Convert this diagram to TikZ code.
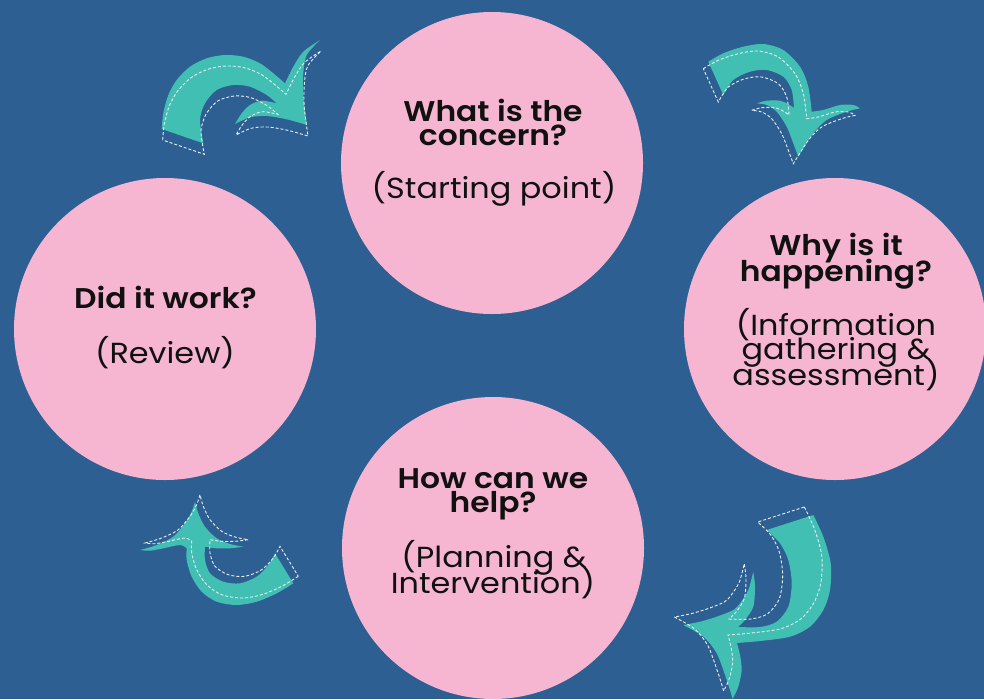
\documentclass[tikz,border=0pt]{standalone}
\usepackage{fontspec}
\setmainfont{Poppins}[FakeStretch=1.1,BoldFont={* SemiBold}]
\definecolor{bgblue}{HTML}{2D5F93}
\definecolor{pinkc}{HTML}{F6B6D2}
\definecolor{tealc}{HTML}{42BFB3}
\definecolor{inkc}{HTML}{111111}
\tikzset{
  circ/.style={circle,fill=pinkc,minimum size=302pt,inner sep=0pt},
  headtxt/.style={anchor=base,inner sep=0pt,text=inkc,font=\bfseries\fontsize{28.5}{28}\selectfont},
  subtxt/.style={anchor=base,inner sep=0pt,text=inkc,font=\fontsize{29}{28}\selectfont},
  arrowfill/.style={fill=tealc},
  arrowdash/.style={draw=white!90!bgblue,line width=0.9pt,dash pattern=on 3pt off 2pt}
}
\def\arrTL{(161.7,129) -- plot[smooth] coordinates {(161.7,129) (163.3,113.3) (168.3,95) (176.7,80) (190,66.7) (206.7,58.3) (225,55) (243.3,56.7) (260,63.3) (273.3,73.3) (285,83.3)}
 -- plot[smooth] coordinates {(285,83.3) (293.3,66.7) (303.3,51.7) (320,40)}
 -- plot[smooth] coordinates {(320,40) (306.7,55) (303.3,73.3) (303.3,96.7) (307,125)}
 -- plot[smooth] coordinates {(307,125) (286.7,119.3) (266.7,116) (250,117.3) (235,124)}
 -- plot[smooth] coordinates {(235,124) (241.7,113.3) (250,105) (261.7,100.7) (276.7,103.3)}
 -- plot[smooth] coordinates {(276.7,103.3) (266.7,95) (250,86.7) (233.3,85) (216.7,90) (205,103.3) (200,120) (203.3,143.3)}
 -- cycle}
\def\arrTR{(708.3,61.7) -- plot[smooth] coordinates {(708.3,61.7) (723.3,53.3) (743.3,46.7) (763.3,44) (783.3,50) (800,66.7) (808.3,86.7) (811.7,111.7)}
 -- plot[smooth] coordinates {(811.7,111.7) (823.3,110) (840,105) (853.3,105) (860,108.3)}
 -- plot[smooth] coordinates {(860,108.3) (846.7,111.7) (826.7,120) (813.3,133.3) (798.3,156.7)}
 -- plot[smooth] coordinates {(798.3,156.7) (793.3,143.3) (786.7,126.7) (776.7,111.7) (766.7,105) (756.7,103.3)}
 -- plot[smooth] coordinates {(756.7,103.3) (766.7,100.7) (780,100.7) (788,104) (794,108)}
 -- plot[smooth] coordinates {(794,108) (791.7,90) (783.3,76.7) (766.7,70) (750,71.7) (733.3,80) (723.3,95)}
 -- cycle}
\def\arrBR{(813.3,515) -- plot[smooth] coordinates {(813.3,515) (823.3,536.7) (830.7,563.3) (830,590) (823.3,610) (810,626.7) (790,636.7) (760,641) (737,643)}
 -- plot[smooth] coordinates {(737,643) (740,655) (741.7,670) (738.3,686.7) (732.7,699)}
 -- plot[smooth] coordinates {(732.7,699) (726.7,680) (716.7,653.3) (703.3,636.7) (683.3,625)}
 -- plot[smooth] coordinates {(683.3,625) (700,621.7) (716.7,616.7) (733.3,610) (740,603.3) (748.3,590) (753.3,571.7)}
 -- plot[smooth] coordinates {(753.3,571.7) (755,586.7) (753.3,606.7) (745,620) (738,627)}
 -- plot[smooth] coordinates {(738,627) (760,627) (776.7,621.7) (788.3,606.7) (791.7,583.3) (788.3,560) (780,543.3) (766.7,530)}
 -- cycle}
\def\arrBL{(293.3,583.3) -- plot[smooth] coordinates {(293.3,583.3) (276.7,593.3) (256.7,601.7) (236.7,605) (216.7,601.7) (201.7,591.7) (191.7,576.7) (186.7,560) (186.7,548.3)}
 -- plot[smooth] coordinates {(186.7,548.3) (180,545) (163.3,548.3) (150,550.7) (140,550)}
 -- plot[smooth] coordinates {(140,550) (156.7,545) (173.3,536.7) (185,523.3) (191.7,511.7) (195,501.7)}
 -- plot[smooth] coordinates {(195,501.7) (198.3,513.3) (205,526.7) (216.7,538.3) (230,544) (243.3,546.7)}
 -- plot[smooth] coordinates {(243.3,546.7) (230,548.3) (216.7,548.3) (205,546.7)}
 -- plot[smooth] coordinates {(205,546.7) (205,560) (210,573.3) (223.3,581.7) (240,583.3) (256.7,576.7) (268.3,565) (275,553.3)}
 -- cycle}
\begin{document}
\begin{tikzpicture}[x=1pt,y=-1pt]
\fill[bgblue] (0,0) rectangle (984,699);
\useasboundingbox (0,0) rectangle (984,699);
% circles
\node[circ] (ctop) at (492,163) {};
\node[circ] (cleft) at (165,329) {};
\node[circ] (cright) at (835,329) {};
\node[circ] (cbot) at (493,548) {};
% arrows
\fill[arrowfill] \arrTL;
\draw[arrowdash,shift={(1,11)}] \arrTL;
\fill[arrowfill] \arrTR;
\draw[arrowdash,shift={(-5,7)}] \arrTR;
\fill[arrowfill] \arrBR;
\draw[arrowdash,shift={(-9,-8)}] \arrBR;
\fill[arrowfill] \arrBL;
\draw[arrowdash,shift={(5,-7)}] \arrBL;
% texts top
\node[headtxt] (t1) at (493,121.7) {What is the};
\node[headtxt] (t2) at (493,145) {concern?};
\node[subtxt] (t3) at (494,198) {(Starting point)};
% right
\node[headtxt] (r1) at (836,255) {Why is it};
\node[headtxt] (r2) at (836,281) {happening?};
\node[subtxt] (r3) at (836,335) {(Information};
\node[subtxt] (r4) at (836,359) {gathering \&};
\node[subtxt] (r5) at (836,385) {assessment)};
% left
\node[headtxt] (l1) at (165.5,308) {Did it work?};
\node[subtxt] (l2) at (165,363) {(Review)};
% bottom
\node[headtxt] (b1) at (493,488) {How can we};
\node[headtxt] (b2) at (493,512) {help?};
\node[subtxt] (b3) at (494,567) {(Planning \&};
\node[subtxt] (b4) at (493,593) {Intervention)};
\end{tikzpicture}
\end{document}
